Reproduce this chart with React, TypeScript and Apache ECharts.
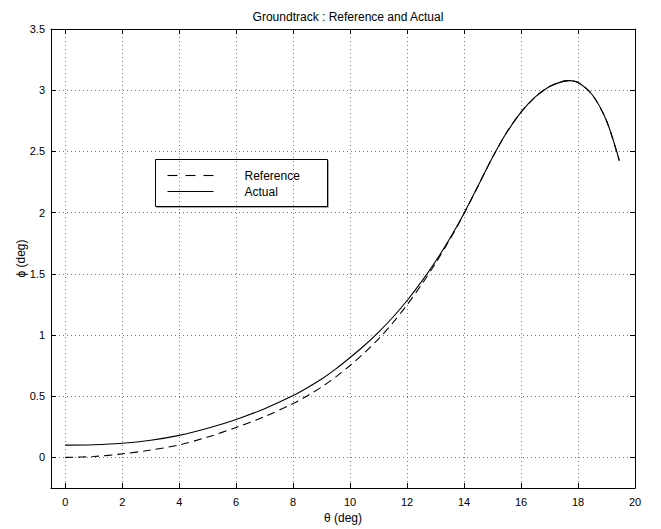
import React, { useEffect, useRef } from 'react';
import * as echarts from 'echarts';

const thetaDeg = [0, 1, 2, 3, 4, 5, 6, 7, 8, 8.5, 9, 9.5, 10, 10.5, 11, 11.5, 12, 12.5, 13, 13.5, 14, 14.5, 15, 15.5, 16, 16.5, 17, 17.5, 17.7, 18, 18.5, 19, 19.45];
const phiActual = [0.1, 0.103, 0.115, 0.14, 0.18, 0.238, 0.31, 0.398, 0.505, 0.569, 0.64, 0.723, 0.816, 0.914, 1.024, 1.145, 1.282, 1.434, 1.602, 1.788, 1.995, 2.222, 2.452, 2.656, 2.821, 2.945, 3.03, 3.074, 3.078, 3.063, 2.963, 2.75, 2.424];
const phiReference = [0, 0.007, 0.029, 0.06, 0.102, 0.166, 0.245, 0.333, 0.44, 0.504, 0.575, 0.658, 0.751, 0.854, 0.969, 1.1, 1.247, 1.409, 1.587, 1.78, 1.991, 2.222, 2.452, 2.656, 2.821, 2.945, 3.03, 3.074, 3.078, 3.063, 2.963, 2.75, 2.424];
const xTicks = [0, 2, 4, 6, 8, 10, 12, 14, 16, 18, 20];
const yTicks = [0, 0.5, 1, 1.5, 2, 2.5, 3, 3.5];
const seriesNames = ['Reference', 'Actual'];
const titleText = 'Groundtrack : Reference and Actual';

const FONT = '"Liberation Sans", Arial, Helvetica, sans-serif';

export default function App() {
  const ref = useRef<HTMLDivElement>(null);
  useEffect(() => {
    if (!ref.current) return;
    const chart = echarts.init(ref.current, undefined, { renderer: 'svg' });
    const refData = thetaDeg.map((x, i) => [x, phiReference[i]]);
    const actData = thetaDeg.map((x, i) => [x, phiActual[i]]);
    const gridLine = { show: true, lineStyle: { color: '#777', width: 1, type: [1, 3] as any } };
    const axisLineStyle = { show: true, onZero: false, lineStyle: { color: '#000', width: 1 } };
    const label = { color: '#000', fontFamily: FONT, fontSize: 11 };
    chart.setOption({
      animation: false,
      backgroundColor: '#fff',
      title: {
        text: titleText,
        left: 343,
        top: 6,
        textAlign: 'center',
        textStyle: { fontFamily: FONT, fontSize: 12, fontWeight: 'normal', color: '#000' },
      },
      grid: { left: 51, right: 26, top: 29, bottom: 37, containLabel: false },
      xAxis: [
        {
          type: 'value', min: -0.5, max: 20, position: 'bottom',
          name: 'θ (deg)', nameLocation: 'middle', nameGap: 24,
          nameTextStyle: { ...label, fontSize: 12 },
          axisLine: axisLineStyle,
          axisTick: { show: true, inside: true, length: 5, customValues: xTicks, lineStyle: { color: '#000' } },
          axisLabel: { ...label, margin: 8, customValues: xTicks },
          splitLine: gridLine,
        },
        {
          type: 'value', min: -0.5, max: 20, position: 'top',
          axisLine: axisLineStyle,
          axisTick: { show: true, inside: true, length: 5, customValues: xTicks, lineStyle: { color: '#000' } },
          axisLabel: { show: false },
          splitLine: { show: false },
        },
      ],
      yAxis: [
        {
          type: 'value', min: -0.25, max: 3.5, position: 'left',
          name: 'ϕ (deg)', nameLocation: 'middle', nameGap: 24, nameMoveOverlap: false,
          nameTextStyle: { ...label, fontSize: 12 },
          axisLine: axisLineStyle,
          axisTick: { show: true, inside: true, length: 5, customValues: yTicks, lineStyle: { color: '#000' } },
          axisLabel: { ...label, margin: 6, customValues: yTicks },
          splitLine: gridLine,
        },
        {
          type: 'value', min: -0.25, max: 3.5, position: 'right',
          axisLine: axisLineStyle,
          axisTick: { show: true, inside: true, length: 5, customValues: yTicks, lineStyle: { color: '#000' } },
          axisLabel: { show: false },
          splitLine: { show: false },
        },
      ],
      series: [
        {
          name: seriesNames[0], type: 'line', data: refData, smooth: 0.3, showSymbol: false,
          lineStyle: { color: '#000', width: 1.1, type: [8, 5] as any }, z: 3,
        },
        {
          name: seriesNames[1], type: 'line', data: actData, smooth: 0.3, showSymbol: false,
          lineStyle: { color: '#000', width: 1.1, type: 'solid' }, z: 4,
        },
      ],
      graphic: [
        {
          type: 'group', left: 155, top: 159, z: 100,
          children: [
            { type: 'rect', shape: { x: 1, y: 1, width: 172, height: 47 }, style: { fill: '#555', stroke: null } },
            { type: 'rect', shape: { x: 0, y: 0, width: 172, height: 47 }, style: { fill: '#fff', stroke: '#000', lineWidth: 1 } },
            { type: 'line', shape: { x1: 12, y1: 16, x2: 22, y2: 16 }, style: { stroke: '#000', lineWidth: 1.1 } },
            { type: 'line', shape: { x1: 30, y1: 16, x2: 40, y2: 16 }, style: { stroke: '#000', lineWidth: 1.1 } },
            { type: 'line', shape: { x1: 48, y1: 16, x2: 58, y2: 16 }, style: { stroke: '#000', lineWidth: 1.1 } },
            { type: 'line', shape: { x1: 12, y1: 32, x2: 58, y2: 32 }, style: { stroke: '#000', lineWidth: 1.1 } },
            { type: 'text', x: 89, y: 16, style: { text: seriesNames[0], fontFamily: FONT, fontSize: 12, fill: '#000', verticalAlign: 'middle' } },
            { type: 'text', x: 89, y: 32, style: { text: seriesNames[1], fontFamily: FONT, fontSize: 12, fill: '#000', verticalAlign: 'middle' } },
          ],
        },
      ],
    });
    return () => chart.dispose();
  }, []);
  return <div ref={ref} style={{ position: 'fixed', left: 0, top: 0, width: 661, height: 529 }} />;
}
